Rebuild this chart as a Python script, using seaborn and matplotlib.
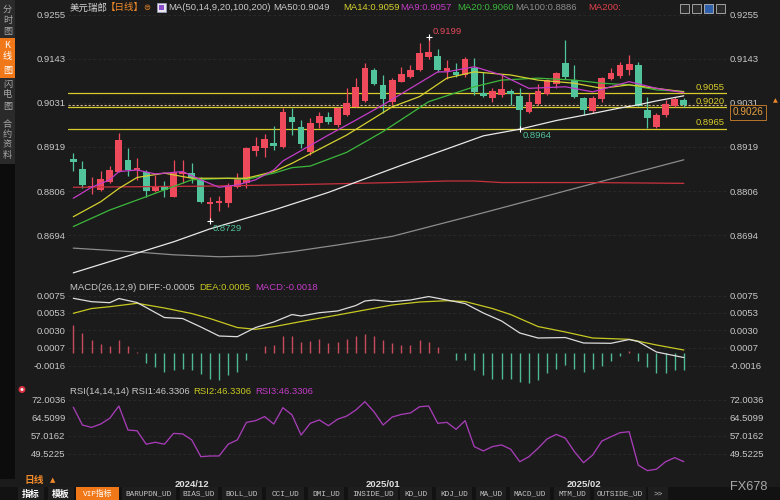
import matplotlib
matplotlib.use("Agg")
import matplotlib.pyplot as plt
import seaborn as sns
import numpy as np
from matplotlib.patches import Rectangle, Ellipse

# ---------------- data ----------------
opens = [0.8887, 0.8863, 0.8816, 0.8809, 0.8829, 0.8856, 0.8886, 0.8860, 0.8856, 0.8807,
         0.8816, 0.8792, 0.8851, 0.8852, 0.8835, 0.8773, 0.8776, 0.8775, 0.8816, 0.8827,
         0.8908, 0.8916, 0.8930, 0.8919, 0.8994, 0.8969, 0.8907, 0.8979, 0.8994, 0.8975,
         0.9000, 0.9021, 0.9036, 0.9115, 0.9077, 0.9034, 0.9085, 0.9098, 0.9115, 0.9147,
         0.9150, 0.9112, 0.9110, 0.9102, 0.9120, 0.9055, 0.9043, 0.9052, 0.9060, 0.9048,
         0.9008, 0.9028, 0.9054, 0.9079, 0.9133, 0.9089, 0.9043, 0.9010, 0.9041, 0.9091,
         0.9099, 0.9115, 0.9128, 0.9014, 0.8969, 0.9000, 0.9022, 0.9038]
closes = [0.8880, 0.8823, 0.8819, 0.8837, 0.8861, 0.8936, 0.8859, 0.8865, 0.8806, 0.8818,
          0.8810, 0.8856, 0.8856, 0.8839, 0.8779, 0.8779, 0.8782, 0.8822, 0.8836, 0.8915,
          0.8921, 0.8938, 0.8921, 0.9007, 0.8982, 0.8926, 0.8979, 0.8998, 0.8982, 0.9017,
          0.9030, 0.9072, 0.9119, 0.9078, 0.9041, 0.9089, 0.9104, 0.9115, 0.9157, 0.9161,
          0.9115, 0.9121, 0.9102, 0.9144, 0.9059, 0.9048, 0.9060, 0.9066, 0.9054, 0.9014,
          0.9034, 0.9061, 0.9089, 0.9106, 0.9096, 0.9047, 0.9013, 0.9043, 0.9095, 0.9108,
          0.9127, 0.9130, 0.9024, 0.8992, 0.9000, 0.9027, 0.9041, 0.9026]
highs = [0.8904, 0.8884, 0.8842, 0.8858, 0.8869, 0.8955, 0.8915, 0.8891, 0.8859, 0.8847,
         0.8831, 0.8886, 0.8886, 0.8878, 0.8842, 0.8792, 0.8794, 0.8826, 0.8852, 0.8919,
         0.8943, 0.8952, 0.8971, 0.9017, 0.9017, 0.8987, 0.8992, 0.9007, 0.9007, 0.9021,
         0.9068, 0.9094, 0.9132, 0.9121, 0.9102, 0.9094, 0.9123, 0.9127, 0.9183, 0.9199,
         0.9168, 0.9140, 0.9132, 0.9147, 0.9145, 0.9110, 0.9068, 0.9102, 0.9067, 0.9068,
         0.9056, 0.9079, 0.9093, 0.9110, 0.9191, 0.9127, 0.9047, 0.9048, 0.9098, 0.9119,
         0.9136, 0.9152, 0.9135, 0.9047, 0.9004, 0.9038, 0.9046, 0.9043]
lows = [0.8858, 0.8813, 0.8799, 0.8807, 0.8827, 0.8855, 0.8845, 0.8835, 0.8792, 0.8805,
        0.8792, 0.8791, 0.8827, 0.8827, 0.8775, 0.8729, 0.8756, 0.8767, 0.8813, 0.8814,
        0.8896, 0.8894, 0.8912, 0.8915, 0.8949, 0.8915, 0.8898, 0.8966, 0.8977, 0.8970,
        0.8998, 0.9020, 0.9034, 0.9077, 0.9004, 0.9026, 0.9083, 0.9095, 0.9112, 0.9144,
        0.9110, 0.9092, 0.9098, 0.9098, 0.9052, 0.9046, 0.9034, 0.9047, 0.9026, 0.8964,
        0.9004, 0.9026, 0.9050, 0.9068, 0.9092, 0.9043, 0.9000, 0.9005, 0.9034, 0.9089,
        0.9094, 0.9103, 0.9022, 0.8968, 0.8967, 0.8994, 0.9020, 0.9020]

ma50_idx = [0, 11, 15, 22, 28, 36, 45, 49, 53, 57, 60, 62, 64, 67]
ma50 = [0.8598, 0.8677, 0.8710, 0.8758, 0.8803, 0.8872, 0.8947, 0.8964, 0.8986, 0.9004,
        0.9018, 0.9026, 0.9036, 0.9049]
ma14_idx = [0, 3, 5, 7, 10, 13, 19, 22, 24, 27, 30, 33, 35, 38, 41, 44, 48, 51, 55, 58,
            61, 64, 67]
ma14 = [0.8741, 0.8779, 0.8813, 0.8841, 0.8852, 0.8839, 0.8839, 0.8856, 0.8877, 0.8913,
        0.8949, 0.8992, 0.9021, 0.9047, 0.9094, 0.9110, 0.9102, 0.9089, 0.9081, 0.9068,
        0.9077, 0.9068, 0.9059]
ma9_idx = [0, 2, 4, 5, 7, 9, 12, 14, 16, 18, 20, 22, 23, 28, 31, 34, 37, 40, 41, 44, 47,
           50, 54, 57, 61, 64, 67]
ma9 = [0.8788, 0.8816, 0.8835, 0.8856, 0.8860, 0.8850, 0.8856, 0.8835, 0.8816, 0.8822,
       0.8835, 0.8860, 0.8883, 0.8949, 0.8987, 0.9026, 0.9068, 0.9110, 0.9110, 0.9123,
       0.9102, 0.9068, 0.9072, 0.9059, 0.9085, 0.9068, 0.9057]
ma20_idx = [0, 4, 8, 11, 13, 17, 19, 22, 24, 26, 30, 34, 39, 44, 47, 51, 55, 58, 61, 64, 67]
ma20 = [0.8716, 0.8758, 0.8792, 0.8818, 0.8835, 0.8839, 0.8836, 0.8852, 0.8866, 0.8870,
        0.8905, 0.8958, 0.9034, 0.9072, 0.9089, 0.9094, 0.9089, 0.9081, 0.9077, 0.9064,
        0.9060]
ma100_idx = [0, 7, 11, 16, 20, 24, 29, 35, 45, 56, 67]
ma100 = [0.8661, 0.8651, 0.8644, 0.8639, 0.8641, 0.8652, 0.8669, 0.8691, 0.8751, 0.8819,
         0.8886]
ma200_idx = [0, 15, 25, 35, 41, 44, 47, 57, 67]
ma200 = [0.8816, 0.8819, 0.8823, 0.8828, 0.8832, 0.8832, 0.8828, 0.8828, 0.8826]

macd_hist = [0.0037, 0.0027, 0.0017, 0.0012, 0.0010, 0.0017, 0.0009, 0.0002, -0.0012, -0.0018,
             -0.0024, -0.0022, -0.0020, -0.0022, -0.0027, -0.0034, -0.0035, -0.0028, -0.0024, -0.0009,
             0.0001, 0.0009, 0.0011, 0.0022, 0.0022, 0.0015, 0.0016, 0.0018, 0.0013, 0.0015,
             0.0018, 0.0022, 0.0025, 0.0022, 0.0017, 0.0013, 0.0011, 0.0011, 0.0017, 0.0015,
             0.0008, 0.0001, -0.0009, -0.0009, -0.0022, -0.0028, -0.0033, -0.0034, -0.0034, -0.0037,
             -0.0039, -0.0035, -0.0026, -0.0020, -0.0015, -0.0020, -0.0024, -0.0020, -0.0017, -0.0010,
             -0.0004, 0.0003, -0.0010, -0.0018, -0.0025, -0.0025, -0.0022, -0.0022]
diff_idx = [0, 2, 4, 5, 7, 10, 12, 14, 16, 18, 20, 22, 24, 25, 27, 29, 31, 32, 33, 35, 37,
            39, 41, 43, 45, 47, 49, 51, 54, 56, 59, 61, 62, 64, 67]
diff_vals = [0.00715, 0.00671, 0.00658, 0.00712, 0.00660, 0.00465, 0.00452, 0.00342, 0.00225,
             0.00216, 0.00335, 0.00407, 0.00504, 0.00485, 0.00528, 0.00550, 0.00621, 0.00680,
             0.00693, 0.00671, 0.00693, 0.00738, 0.00693, 0.00647, 0.00524, 0.00420, 0.00264,
             0.00199, 0.00205, 0.00134, 0.00130, 0.00179, 0.00153, 0.00017, -0.00055]
dea_idx = [0, 2, 4, 7, 10, 13, 15, 18, 20, 22, 25, 29, 32, 35, 38, 41, 43, 46, 48, 51, 54,
           57, 61, 64, 67]
dea_vals = [0.00520, 0.00582, 0.00606, 0.00650, 0.00589, 0.00517, 0.00452, 0.00335, 0.00312,
            0.00346, 0.00413, 0.00498, 0.00563, 0.00628, 0.00667, 0.00684, 0.00673, 0.00582,
            0.00504, 0.00348, 0.00277, 0.00199, 0.00182, 0.00108, 0.00043]

rsi_vals = [69.0, 61.6, 60.6, 62.0, 64.4, 69.5, 59.5, 59.2, 53.6, 54.4,
            53.6, 58.1, 57.9, 55.4, 48.4, 48.7, 48.7, 53.6, 55.4, 62.7,
            63.4, 65.1, 62.0, 68.8, 65.8, 57.4, 62.3, 63.7, 61.3, 64.0,
            65.3, 67.8, 71.3, 67.1, 61.6, 64.9, 66.0, 66.6, 69.2, 69.5,
            62.3, 62.7, 59.8, 63.4, 52.6, 50.8, 52.6, 53.3, 51.5, 46.3,
            48.4, 51.9, 55.8, 57.7, 56.1, 50.5, 45.9, 49.1, 54.9, 56.7,
            58.4, 58.8, 44.9, 42.6, 43.2, 46.3, 48.0, 46.33]

price_ticks = [0.9255, 0.9143, 0.9031, 0.8919, 0.8806, 0.8694]
macd_ticks = [0.0075, 0.0053, 0.0030, 0.0007, -0.0016]
rsi_ticks = [72.0036, 64.5099, 57.0162, 49.5225]
level_lines = [0.9055, 0.9020, 0.8965]
last_price = 0.9026
high_idx, high_val = 39, 0.9199
low_marks = [(49, 0.8964), (15, 0.8729)]
date_labels = ["2024/12", "2025/01", "2025/02"]
date_idx = [13, 34, 56]
toolbar_items = ["指标", "模板", "VIP指标", "BARUPDN_UD", "BIAS_UD", "BOLL_UD", "CCI_UD",
                 "DMI_UD", "INSIDE_UD", "KD_UD", "KDJ_UD", "MA_UD", "MACD_UD", "MTM_UD",
                 "OUTSIDE_UD", ">>"]

# ---------------- style ----------------
sns.set_theme(style="dark")
plt.rcParams["font.family"] = ["Liberation Sans", "Noto Sans CJK SC", "DejaVu Sans"]
plt.rcParams["axes.unicode_minus"] = False

BG = "#1b1b1b"
UP = "#ee4a5c"
DN = "#52c49c"
YEL = "#d8cc2c"
TXT = "#c8c8c8"
CJK = ["Noto Sans CJK SC", "DejaVu Sans"]

W, H = 780, 500
fig = plt.figure(figsize=(7.8, 5.0), dpi=100, facecolor=BG)


def fx(x):
    return x / W


def fy(y):
    return 1 - y / H


X0, X1 = 68, 727
xmin = -(73.3 - X0) / 9.112
xmax = xmin + (X1 - X0) / 9.112

ax = fig.add_axes([fx(X0), fy(282), (X1 - X0) / W, (282 - 5) / H])
axm = fig.add_axes([fx(X0), fy(385), (X1 - X0) / W, 95 / H])
axr = fig.add_axes([fx(X0), fy(478), (X1 - X0) / W, 84 / H])

for a, ticks, lim, fmt in [(ax, price_ticks, (0.85747, 0.92803), "{:.4f}"),
                           (axm, macd_ticks, (-0.00412, 0.00823), "{:.4f}"),
                           (axr, rsi_ticks, (39.53, 74.50), "{:.4f}")]:
    a.set_facecolor(BG)
    for s in a.spines.values():
        s.set_visible(False)
    a.set_xlim(xmin, xmax)
    a.set_ylim(*lim)
    a.set_xticks([])
    a.set_yticks(ticks)
    a.set_yticklabels([fmt.format(t) for t in ticks])
    a.tick_params(axis="y", length=0, labelleft=True, labelright=True, pad=1.8,
                  labelsize=6.8, labelcolor=TXT)
    a.grid(False)
    for t in ticks:
        a.axhline(t, color="#2c2c2c", lw=0.6, ls=(0, (3, 3)), zorder=0)
    a.set_xlabel("")
    a.set_ylabel("")

# ---------------- main candles ----------------
idx = np.arange(len(opens))
o = np.array(opens)
c = np.array(closes)
hi = np.array(highs)
lo = np.array(lows)
cols = np.where(c >= o, UP, DN)

for lv in level_lines:
    ax.axhline(lv, color=YEL, lw=0.9, zorder=2)
    ax.annotate(f"{lv:.4f}", xy=(0.997, lv), xycoords=("axes fraction", "data"),
                xytext=(0, 1.2), textcoords="offset points", ha="right", va="bottom",
                color=YEL, fontsize=6.8)
ax.axhline(last_price, color="#cdb58a", lw=0.8, ls=(0, (2, 1.6)), zorder=2)

ax.vlines(idx, lo, hi, colors=cols, lw=0.9, zorder=3)
body_h = np.maximum(np.abs(c - o), 0.00012)
ax.bar(idx, body_h, bottom=np.minimum(o, c), width=0.74, color=cols, lw=0, zorder=4)

for xs, ys, col in [(ma100_idx, ma100, "#8c8c8c"), (ma200_idx, ma200, "#c8323e"),
                    (ma50_idx, ma50, "#e8e8e8"), (ma20_idx, ma20, "#3cb83c"),
                    (ma14_idx, ma14, "#d4d030"), (ma9_idx, ma9, "#c43cc8")]:
    sns.lineplot(x=xs, y=ys, ax=ax, color=col, linewidth=0.9, estimator=None,
                 sort=False, legend=False, zorder=5)
ax.set_xlabel("")
ax.set_ylabel("")

ax.plot([high_idx], [high_val], marker="+", color="white", ms=4, mew=0.8, zorder=6)
ax.annotate(f"{high_val:.4f}", xy=(high_idx, high_val), xytext=(3, 3.6),
            textcoords="offset points", ha="left", va="center", color="#e44a5a",
            fontsize=6.8, zorder=7)
for li, lv in low_marks:
    ax.plot([li], [lv], marker="+", color="white", ms=4, mew=0.8, zorder=6)
    ax.annotate(f"{lv:.4f}", xy=(li, lv), xytext=(2.2, -4.8), textcoords="offset points",
                ha="left", va="center", color="#52c49c", fontsize=6.8, zorder=7)

ax.annotate(f"{last_price:.4f}", xy=(1.0, last_price), xycoords=("axes fraction", "data"),
            xytext=(4, -5.2), textcoords="offset points", ha="left", va="center",
            color="#e8a040", fontsize=7.2, annotation_clip=False,
            bbox=dict(boxstyle="square,pad=0.25", facecolor="#1b1b1b", edgecolor="#b8742a",
                      lw=0.7))
fig.text(fx(775), fy(101), "▲", color="#f08a2a", fontsize=4.5, ha="center", va="center",
         family=["DejaVu Sans"])

# ---------------- MACD ----------------
h = np.array(macd_hist)
axm.vlines(idx, 0, h, colors=np.where(h >= 0, "#c84a5c", "#4fb894"), lw=1.0, zorder=3)
sns.lineplot(x=dea_idx, y=dea_vals, ax=axm, color="#c8c822", linewidth=0.9,
             estimator=None, sort=False, legend=False, zorder=4)
sns.lineplot(x=diff_idx, y=diff_vals, ax=axm, color="#dcdcdc", linewidth=0.9,
             estimator=None, sort=False, legend=False, zorder=5)
axm.set_xlabel("")
axm.set_ylabel("")

# ---------------- RSI ----------------
sns.lineplot(x=idx, y=rsi_vals, ax=axr, color="#a63cb6", linewidth=0.95,
             estimator=None, sort=False, legend=False, zorder=4)
axr.set_xlabel("")
axr.set_ylabel("")
for lab, di in zip(date_labels, date_idx):
    axr.annotate(lab, xy=(di, 0), xycoords=("data", "axes fraction"), xytext=(0, -1.5),
                 textcoords="offset points", ha="center", va="top", color="#e0e0e0",
                 fontsize=6.8, fontweight="bold", annotation_clip=False)

# ---------------- titles ----------------
ty = fy(7.5)
fig.text(fx(70), ty, "美元瑞郎", color="#d4d4d4", fontsize=6.8, family=CJK, va="center")
fig.text(fx(106), ty, "【日线】", color="#f08a2a", fontsize=6.8, family=CJK, va="center")
fig.text(fx(147), ty, "⊜", color="#f08a2a", fontsize=6, family=["DejaVu Sans"],
         ha="center", va="center")
fig.patches.append(Rectangle((fx(157), fy(12)), 9 / W, 9 / H, transform=fig.transFigure,
                             facecolor="#e8e8f0", edgecolor="#a0a0c0", lw=0.5))
fig.patches.append(Rectangle((fx(159), fy(10)), 5 / W, 5 / H, transform=fig.transFigure,
                             facecolor="#8a4cc8", edgecolor="none"))
for txt, x, col in [("MA(50,14,9,20,100,200)", 168, TXT), ("MA50:0.9049", 273, TXT),
                    ("MA14:0.9059", 343, "#d4d030"), ("MA9:0.9057", 400, "#c43cc8"),
                    ("MA20:0.9060", 457, "#3cb83c"), ("MA100:0.8886", 515, "#8c8c8c"),
                    ("MA200:", 588, "#e0404c")]:
    fig.text(fx(x), ty, txt, color=col, fontsize=6.8, va="center")
for k, x in enumerate([680, 692, 704, 716]):
    fig.patches.append(Rectangle((fx(x), fy(13)), 9 / W, 9 / H, transform=fig.transFigure,
                                 facecolor="#2f5fa8" if k == 2 else "#2a2a2a",
                                 edgecolor="#d0d0d0", lw=0.5))

my = fy(287)
fig.text(fx(70.5), my, "MACD(26,12,9) DIFF:-0.0005", color=TXT, fontsize=6.8, va="center")
fig.text(fx(199), my, "DEA:0.0005", color="#c8c822", fontsize=6.8, va="center")
fig.text(fx(255), my, "MACD:-0.0018", color="#c43cc8", fontsize=6.8, va="center")

ry = fy(391)
fig.text(fx(70.5), ry, "RSI(14,14,14) RSI1:46.3306", color=TXT, fontsize=6.8, va="center")
fig.text(fx(193), ry, "RSI2:46.3306", color="#c8c822", fontsize=6.8, va="center")
fig.text(fx(255), ry, "RSI3:46.3306", color="#c43cc8", fontsize=6.8, va="center")
fig.patches.append(Ellipse((fx(22), fy(389.5)), 7 / W, 7 / H, transform=fig.transFigure,
                           facecolor="#d83040", edgecolor="none"))
fig.patches.append(Ellipse((fx(22), fy(389.5)), 3 / W, 3 / H, transform=fig.transFigure,
                           facecolor="#f0f0f0", edgecolor="none"))

# ---------------- left sidebar ----------------
fig.patches.append(Rectangle((0, fy(164)), 15 / W, 164 / H, transform=fig.transFigure,
                             facecolor="#2a2a2a", edgecolor="none", zorder=0))
fig.patches.append(Rectangle((0, fy(479)), 15 / W, (479 - 164) / H, transform=fig.transFigure,
                             facecolor="#0c0c0c", edgecolor="none", zorder=0))
fig.patches.append(Rectangle((0, fy(78)), 15 / W, 40 / H, transform=fig.transFigure,
                             facecolor="#f07818", edgecolor="none", zorder=0))
for ch, y, col in [("分", 9.5, "#a8a8a8"), ("时", 20.5, "#a8a8a8"), ("图", 31.5, "#a8a8a8"),
                   ("K", 45, "#ffffff"), ("线", 57, "#ffffff"), ("图", 70, "#ffffff"),
                   ("闪", 84, "#a8a8a8"), ("电", 95, "#a8a8a8"), ("图", 106, "#a8a8a8"),
                   ("合", 124, "#a8a8a8"), ("约", 134, "#a8a8a8"), ("资", 145, "#a8a8a8"),
                   ("料", 155.5, "#a8a8a8")]:
    fig.text(fx(7.5), fy(y), ch, color=col, fontsize=6.6, family=CJK, ha="center",
             va="center")

# ---------------- bottom rows ----------------
fig.text(fx(25), fy(480), "日线", color="#f08a2a", fontsize=7, family=CJK, va="center",
         fontweight="bold")
fig.text(fx(50), fy(480), "▲", color="#f08a2a", fontsize=5, family=["DejaVu Sans"],
         va="center")
fig.patches.append(Rectangle((0, 0), 1, 13 / H, transform=fig.transFigure,
                             facecolor="#121212", edgecolor="none", zorder=0))
bounds = [(18, 44), (48, 74), (76, 119), (122, 176), (180, 218), (222, 262), (266, 304),
          (308, 344), (348, 398), (400, 432), (436, 472), (476, 506), (510, 550),
          (554, 590), (594, 646), (648, 668)]
for lab, (a0, a1) in zip(toolbar_items, bounds):
    orange = lab.startswith("VIP")
    fig.patches.append(Rectangle((fx(a0), 0), (a1 - a0) / W, 13 / H, transform=fig.transFigure,
                                 facecolor="#f07818" if orange else "#1e1e1e",
                                 edgecolor="none", zorder=0))
    cjk_only = lab in ("指标", "模板")
    fig.text(fx((a0 + a1) / 2), fy(494), lab,
             color="#ffffff" if (orange or cjk_only) else "#c4c4c4",
             fontsize=6.4 if cjk_only else 5.6,
             family=CJK if cjk_only else ["Liberation Mono", "Noto Sans CJK SC"],
             fontweight="bold" if cjk_only else "normal", ha="center", va="center")
fig.text(fx(730), fy(487), "FX678", color="#a8a8a8", fontsize=9.2, va="center")

fig.savefig("out.png", dpi=100, facecolor=BG)
